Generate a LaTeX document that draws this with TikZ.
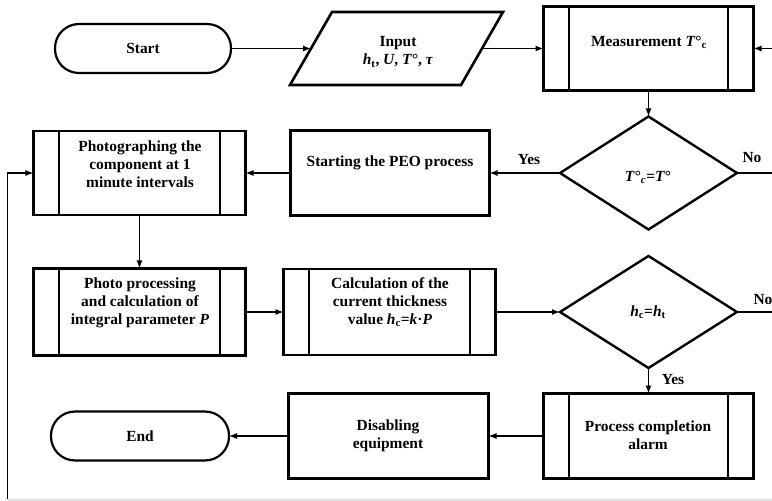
\documentclass[tikz,border=0pt]{standalone}
\usepackage{fontspec}
\setmainfont{Liberation Serif}
\usetikzlibrary{arrows.meta,shapes.geometric}
\begin{document}
\begin{tikzpicture}[x=1bp,y=-1bp,
  every node/.style={font=\bfseries\fontsize{15.5}{18.3}\selectfont, inner sep=0pt, outer sep=0pt},
  box/.style={draw, rectangle, line width=2.6bp},
  term/.style={draw, rectangle, line width=2.2bp, rounded corners=24bp},
  dec/.style={draw, diamond, line width=2.4bp},
  txt/.style={align=center},
  conn/.style={line width=1.2bp, -{Latex[length=8bp,width=6bp]}},
  plain/.style={line width=1.2bp},
  sub/.style={line width=2.6bp}
]
\useasboundingbox (0,0) rectangle (772,501);

% shapes
\node[term, minimum width=176bp, minimum height=49bp] (start) at (143,48.5) {};
\draw[line width=2.6bp, line join=miter] (332,12) -- (503,12) -- (461,85) -- (290,85) -- cycle;
\coordinate (inL) at (311,48.5);
\coordinate (inR) at (482,48.5);
\node[box, minimum width=210bp, minimum height=84bp] (meas) at (648.5,48.5) {};
\node[dec, minimum width=177bp, minimum height=113bp] (d1) at (648.5,173) {};
\node[box, minimum width=199bp, minimum height=85bp] (peo) at (390,173) {};
\node[box, minimum width=212bp, minimum height=84bp] (photo) at (139.5,173) {};
\node[box, minimum width=212bp, minimum height=87bp] (proc) at (139.5,312) {};
\node[box, minimum width=212bp, minimum height=86bp] (calc) at (389.5,312) {};
\node[dec, minimum width=177bp, minimum height=112bp] (d2) at (648.5,312) {};
\node[box, minimum width=210bp, minimum height=85bp] (alarm) at (648.5,436) {};
\node[box, minimum width=200bp, minimum height=85bp] (dis) at (388.5,436) {};
\node[term, minimum width=178bp, minimum height=49bp] (end) at (140,436) {};

% inner lines of predefined process boxes
\foreach \n in {meas,photo,proc,calc,alarm}{
  \draw[sub] ([xshift=25.5bp]\n.north west) -- ([xshift=25.5bp]\n.south west);
  \draw[sub] ([xshift=-25.5bp]\n.north east) -- ([xshift=-25.5bp]\n.south east);
}

% texts
\node[txt] (tstart) at (143,48.5) {Start};
\node[txt] (tinp) at (398,52) {Input\\\textit{h}\textsubscript{t}, \textit{U}, \textit{T}°, \textit{τ}};
\node[txt] (tmeas) at (649,42) {Measurement \textit{T}°\textsubscript{c}};
\node[txt] (td1) at (648,177) {\textit{T}°\textsubscript{\textit{c}}=\textit{T}°};
\node[txt] (tpeo) at (390,163) {Starting the PEO process};
\node[txt] (tphoto) at (140,164) {Photographing the\\component at 1\\minute intervals};
\node[txt] (tproc) at (140,303) {Photo processing\\and calculation of\\integral parameter \textit{P}};
\node[txt] (tcalc) at (390,302) {Calculation of the\\current thickness\\value \textit{h}\textsubscript{c}=\textit{k}·\textit{P}};
\node[txt] (td2) at (648,312) {\textit{h}\textsubscript{c}=\textit{h}\textsubscript{t}};
\node[txt] (talarm) at (648,435) {Process completion\\alarm};
\node[txt] (tdis) at (388,436) {Disabling\\equipment};
\node[txt] (tend) at (140,436) {End};

% labels
\node (yes1) at (529,160) {Yes};
\node (no1) at (752,158) {No};
\node (yes2) at (673,380) {Yes};
\node (no2) at (763,300) {No};

% free ends
\coordinate (rin) at (772,48.5);
\coordinate (rout1) at (772,173);
\coordinate (rout2) at (772,312);
\coordinate (lb) at (7.5,499);

% connectors
\draw[conn] (start) -- (inL);
\draw[conn] (inR) -- (meas);
\draw[conn] (rin) -- (meas.east);
\draw[conn] (meas) -- (d1);
\draw[conn] (d1) -- (peo);
\draw[plain] (d1.east) -- (rout1);
\draw[conn] (peo) -- (photo);
\draw[conn] (lb) |- (photo.west);
\draw[conn] (photo) -- (proc);
\draw[conn] (proc) -- (calc);
\draw[conn] (calc) -- (d2);
\draw[plain] (d2.east) -- (rout2);
\draw[conn] (d2) -- (alarm);
\draw[conn] (alarm) -- (dis);
\draw[conn] (dis) -- (end);

% faint bottom edge line
\draw[black!12, line width=1.5bp] (8,499.8) -- (772,499.8);
\end{tikzpicture}
\end{document}
